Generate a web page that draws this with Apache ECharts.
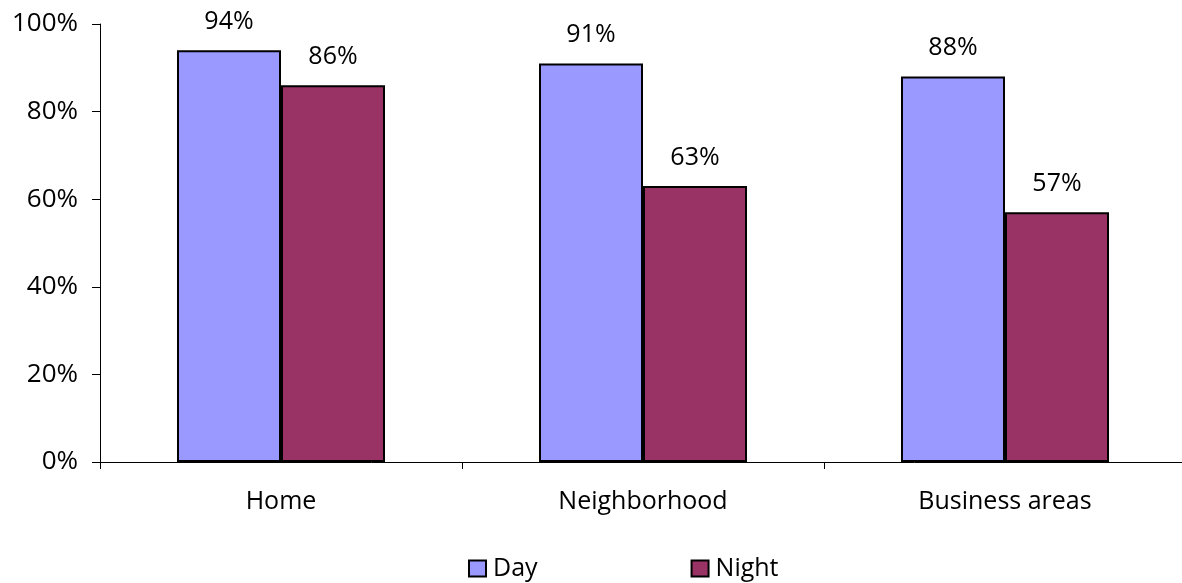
<!DOCTYPE html>
<html>
<head>
<meta charset="utf-8">
<script src="https://cdn.jsdelivr.net/npm/echarts@6/dist/echarts.min.js"></script>
<style>
  html, body { margin: 0; padding: 0; background: #fff; overflow: hidden; }
  /* the plot's right edge runs 4px past the visible page */
  #chart { width: 1186px; height: 583px; }
</style>
</head>
<body>
<div id="chart"></div>
<script>
// Share of respondents feeling safe, by place and time of day
const categories = ['Home', 'Neighborhood', 'Business areas'];
const dayValues = [94, 91, 88];
const nightValues = [86, 63, 57];
const seriesNames = ['Day', 'Night'];

const FONT = '"Open Sans", sans-serif';
const chart = echarts.init(document.getElementById('chart'));

const labelStyle = {
  show: true,
  position: 'top',
  distance: 16,
  formatter: '{c}%',
  color: '#000',
  fontFamily: FONT,
  fontSize: 25
};

chart.setOption({
  animation: false,
  textStyle: { fontFamily: FONT },
  grid: { left: 100, top: 24, right: 0, bottom: 121, containLabel: false },
  legend: {
    left: 468,
    top: 556,
    padding: 0,
    itemWidth: 17,
    itemHeight: 16,
    itemGap: 153,
    icon: 'rect',
    textStyle: { fontFamily: FONT, fontSize: 25, color: '#000', padding: [0, 0, 0, 2] },
    data: seriesNames
  },
  xAxis: {
    type: 'category',
    data: categories,
    axisLine: { lineStyle: { color: '#000', width: 1 } },
    axisTick: { show: true, length: 7, lineStyle: { color: '#000' } },
    axisLabel: { margin: 27, color: '#000', fontFamily: FONT, fontSize: 25 }
  },
  yAxis: {
    type: 'value',
    min: 0,
    max: 100,
    interval: 20,
    axisLine: { show: true, lineStyle: { color: '#000', width: 1 } },
    axisTick: { show: true, length: 8, lineStyle: { color: '#000' } },
    splitLine: { show: false },
    axisLabel: { margin: 22, formatter: '{value}%', color: '#000', fontFamily: FONT, fontSize: 26 }
  },
  series: [
    {
      name: seriesNames[0],
      type: 'bar',
      data: dayValues,
      barWidth: 104,
      barGap: '0%',
      itemStyle: { color: '#9999FF', borderColor: '#000', borderWidth: 2 },
      label: labelStyle
    },
    {
      name: seriesNames[1],
      type: 'bar',
      data: nightValues,
      barWidth: 104,
      itemStyle: { color: '#993366', borderColor: '#000', borderWidth: 2 },
      label: labelStyle
    }
  ]
});
</script>
</body>
</html>
